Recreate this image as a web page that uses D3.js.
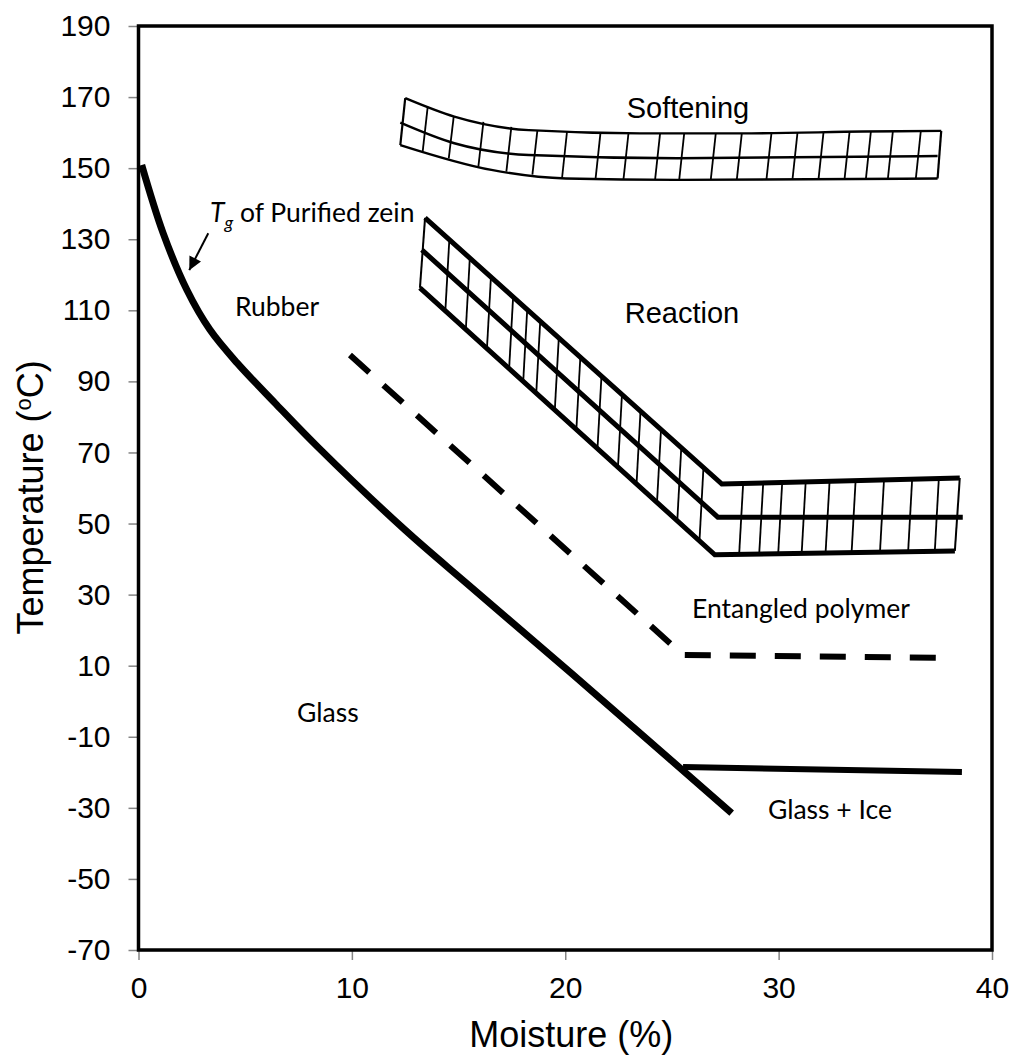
<!DOCTYPE html>
<html>
<head>
<meta charset="utf-8">
<script src="https://cdn.jsdelivr.net/npm/d3@7"></script>
<style>
  html, body { margin: 0; padding: 0; background: #fff; }
  svg { display: block; }
  .axis text { font-family: "Liberation Sans", Arial, sans-serif; font-size: 30px; fill: #000; }
  .axis path, .axis line { stroke: #858585; stroke-width: 1.5px; }
  .title { font-family: "Liberation Sans", Arial, sans-serif; font-size: 36px; fill: #000; }
  .region { font-family: Lato, "Open Sans", sans-serif; font-size: 26.5px; fill: #000; }
  .region-arial { font-family: "Liberation Sans", Arial, sans-serif; font-size: 29px; fill: #000; }
</style>
</head>
<body>
<svg id="chart" width="1016" height="1059"></svg>
<script>
// state diagram of zein: temperature vs moisture

var xTicks = [0, 10, 20, 30, 40];
var yTicks = [190, 170, 150, 130, 110, 90, 70, 50, 30, 10, -10, -30, -50, -70];

// Tg of purified zein (thick solid)
var tgCurve = [[0.15, 150.9], [1.15, 131.8], [2.27, 115.7], [3.35, 104.5], [4.62, 95.2],
               [6.40, 83.9], [8.41, 71.5], [12.49, 48.2], [15.53, 32.4], [20.36, 7.5],
               [27.80, -31.5]];

// glass + ice boundary
var iceLine = [[25.52, -18.5], [38.59, -19.9]];

// entangled polymer boundary (dashed)
var entangledLine = [[9.91, 97.4], [25.52, 13.0], [37.56, 12.2]];

// reaction band
var reactionTop = [[13.43, 136.0], [27.34, 61.1], [38.49, 62.8]];
var reactionMid = [[13.28, 127.0], [27.15, 51.8], [38.63, 51.8]];
var reactionBottom = [[13.19, 116.3], [27.01, 41.2], [38.26, 42.3]];
var reactionHatch = [14.38, 15.34, 16.33, 17.37, 18.03, 18.64, 19.51, 20.52, 21.51, 22.47,
                     23.34, 24.30, 25.25, 26.29, 28.15, 29.09, 29.98, 31.08, 32.20, 33.42,
                     34.75, 36.07, 37.32];

// softening band
var softTop = [[12.50, 169.7], [14.80, 164.5], [18.29, 160.7], [23.50, 159.8], [28.73, 159.8],
               [33.96, 160.3], [37.62, 160.5]];
var softMid = [[12.27, 162.8], [14.80, 157.0], [18.29, 153.7], [25.25, 152.8], [37.45, 153.4]];
var softBottom = [[12.27, 156.5], [16.54, 149.5], [20.03, 147.1], [25.25, 146.7], [37.45, 147.1]];
var softHatch = [13.32, 14.54, 15.93, 17.24, 18.46, 19.85, 21.42, 22.73, 24.21, 25.34, 26.82,
                 28.04, 29.43, 30.65, 31.87, 33.09, 34.09, 35.12, 36.43];

// region labels [text, x, y, anchor, font class]
var regionLabels = [
  ["Rubber", 4.52, 108.4, "start", "region"],
  ["Glass", 7.43, -5.8, "start", "region"],
  ["Entangled polymer", 25.94, 23.4, "start", "region"],
  ["Glass + Ice", 29.5, -33.2, "start", "region"],
  ["Softening", 25.75, 164.1, "middle", "region-arial"],
  ["Reaction", 25.47, 106.4, "middle", "region-arial"]
];
var tgLabelPos = [3.35, 134.9];
var tgArrow = [[3.27, 131.7], [2.38, 121.3]];

var W = 1016, H = 1059;
var margin = {top: 26, right: 24, bottom: 109, left: 138.5};

var svg = d3.select("#chart");

var x = d3.scaleLinear().domain([0, 40]).range([margin.left, W - margin.right]);
var y = d3.scaleLinear().domain([-70, 190]).range([H - margin.bottom, margin.top]);

var line = d3.line().x(function(d) { return x(d[0]); }).y(function(d) { return y(d[1]); });
var smooth = d3.line().x(function(d) { return x(d[0]); }).y(function(d) { return y(d[1]); })
    .curve(d3.curveMonotoneX);

// axes (plain hyphen for negatives, like the original)
svg.append("g")
    .attr("class", "axis")
    .attr("transform", "translate(" + margin.left + ",0)")
    .call(d3.axisLeft(y).tickValues(yTicks).tickFormat(function(d) { return String(d); })
        .tickSize(10).tickPadding(18).tickSizeOuter(0));

svg.append("g")
    .attr("class", "axis")
    .attr("transform", "translate(0," + y(-70) + ")")
    .call(d3.axisBottom(x).tickValues(xTicks).tickFormat(function(d) { return String(d); })
        .tickSize(10).tickPadding(17).tickSizeOuter(0));

// plot frame
svg.append("rect")
    .attr("x", x(0)).attr("y", y(190))
    .attr("width", x(40) - x(0)).attr("height", y(-70) - y(190))
    .attr("fill", "none").attr("stroke", "#000").attr("stroke-width", 3.5);

// axis titles
svg.append("text")
    .attr("class", "title")
    .attr("text-anchor", "middle")
    .attr("x", (x(0) + x(40)) / 2 + 6)
    .attr("y", H - 12)
    .text("Moisture (%)");

var yt = svg.append("text")
    .attr("class", "title")
    .attr("text-anchor", "middle")
    .attr("transform", "translate(43," + (y(90) + 116) + ") rotate(-90)");
yt.append("tspan").text("Temperature (");
yt.append("tspan").attr("font-size", "22px").attr("dy", -12).text("o");
yt.append("tspan").attr("dy", 12).text("C)");

// hatch helper: vertical-ish strokes between two boundary lines
function hatch(g, xs, lower, upper, lean, width) {
    var lo = d3.scaleLinear().domain(lower.map(function(d) { return d[0]; }))
        .range(lower.map(function(d) { return d[1]; })).clamp(true);
    var hi = d3.scaleLinear().domain(upper.map(function(d) { return d[0]; }))
        .range(upper.map(function(d) { return d[1]; })).clamp(true);
    g.selectAll("line.h")
        .data(xs)
        .enter().append("line")
        .attr("class", "h")
        .attr("x1", function(d) { return x(d); })
        .attr("y1", function(d) { return y(lo(d)); })
        .attr("x2", function(d) { return x(d) + lean; })
        .attr("y2", function(d) { return y(hi(x.invert(x(d) + lean))); })
        .attr("stroke", "#000")
        .attr("stroke-width", width);
}

// softening band
var soft = svg.append("g");
hatch(soft, softHatch, softBottom, softTop, 5, 1.8);
[softTop, softMid, softBottom].forEach(function(pts) {
    soft.append("path").attr("d", smooth(pts))
        .attr("fill", "none").attr("stroke", "#000").attr("stroke-width", 2.4);
});
soft.append("path").attr("d", line([softBottom[0], softTop[0]]))
    .attr("fill", "none").attr("stroke", "#000").attr("stroke-width", 2.2);
soft.append("path").attr("d", line([softBottom[softBottom.length - 1], softTop[softTop.length - 1]]))
    .attr("fill", "none").attr("stroke", "#000").attr("stroke-width", 2.2);

// reaction band
var react = svg.append("g");
hatch(react, reactionHatch, reactionBottom, reactionTop, 4, 1.8);
react.append("path").attr("d", line([reactionBottom[0], reactionTop[0]]))
    .attr("fill", "none").attr("stroke", "#000").attr("stroke-width", 2);
react.append("path").attr("d", line([reactionBottom[2], reactionTop[2]]))
    .attr("fill", "none").attr("stroke", "#000").attr("stroke-width", 2);
[reactionTop, reactionMid, reactionBottom].forEach(function(pts) {
    react.append("path").attr("d", line(pts))
        .attr("fill", "none").attr("stroke", "#000").attr("stroke-width", 5);
});

// entangled polymer (dashed)
svg.append("path")
    .attr("d", line(entangledLine))
    .attr("fill", "none").attr("stroke", "#000").attr("stroke-width", 6)
    .attr("stroke-dasharray", "26,19");

// glass + ice
svg.append("path")
    .attr("d", line(iceLine))
    .attr("fill", "none").attr("stroke", "#000").attr("stroke-width", 6);

// Tg curve
svg.append("path")
    .attr("d", d3.line().x(function(d) { return x(d[0]); }).y(function(d) { return y(d[1]); })
        .curve(d3.curveCatmullRom.alpha(0.5))(tgCurve))
    .attr("fill", "none").attr("stroke", "#000").attr("stroke-width", 7)
    .attr("stroke-linejoin", "round");

// arrow to Tg
svg.append("defs").append("marker")
    .attr("id", "head")
    .attr("viewBox", "0 0 10 10")
    .attr("refX", 10).attr("refY", 5)
    .attr("markerUnits", "userSpaceOnUse")
    .attr("markerWidth", 14).attr("markerHeight", 13)
    .attr("orient", "auto")
    .append("path").attr("d", "M0,0 L10,5 L0,10 z").attr("fill", "#000");

svg.append("path")
    .attr("d", line(tgArrow))
    .attr("stroke", "#000").attr("stroke-width", 2)
    .attr("marker-end", "url(#head)");

var tg = svg.append("text")
    .attr("class", "region")
    .attr("x", x(tgLabelPos[0]))
    .attr("y", y(tgLabelPos[1]));
tg.append("tspan").attr("font-style", "italic").text("T");
tg.append("tspan").attr("font-style", "italic").attr("font-size", "18px").attr("dy", 7).text("g");
tg.append("tspan").attr("dy", -7).text(" of Purified zein");

// region labels
svg.selectAll("text.lbl")
    .data(regionLabels)
    .enter().append("text")
    .attr("class", function(d) { return "lbl " + d[4]; })
    .attr("x", function(d) { return x(d[1]); })
    .attr("y", function(d) { return y(d[2]); })
    .attr("text-anchor", function(d) { return d[3]; })
    .text(function(d) { return d[0]; });
</script>
</body>
</html>
